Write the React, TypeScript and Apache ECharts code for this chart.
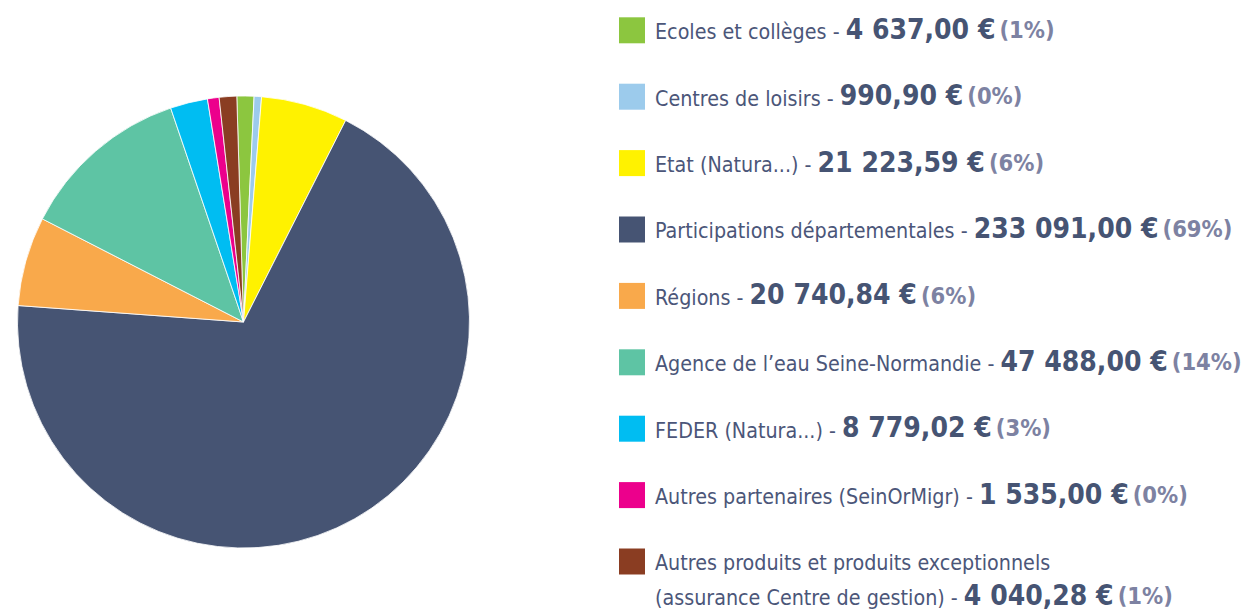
import React, { useEffect, useRef } from "react";
import * as echarts from "echarts";

// Legend names, amounts (EUR) and percentage labels, as printed
const names = [
  "Ecoles et collèges",
  "Centres de loisirs",
  "Etat (Natura...)",
  "Participations départementales",
  "Régions",
  "Agence de l’eau Seine-Normandie",
  "FEDER (Natura...)",
  "Autres partenaires (SeinOrMigr)",
  "Autres produits et produits exceptionnels\n(assurance Centre de gestion)",
];
const amounts = [4637.0, 990.9, 21223.59, 233091.0, 20740.84, 47488.0, 8779.02, 1535.0, 4040.28];
const percents = ["1%", "0%", "6%", "69%", "6%", "14%", "3%", "0%", "1%"];
// Slice shares (% of the circle)
const sliceShares = [1.22, 0.53, 6.19, 68.7, 6.38, 12.24, 2.67, 0.83, 1.25];
const colors = ["#8cc63f", "#9ccbec", "#fff200", "#465473", "#f9a94b", "#5ec4a4", "#00bdf2", "#ec008c", "#8a3d22"];

function fmt(v: number): string {
  const [i, d] = v.toFixed(2).split(".");
  const g = i.replace(/\B(?=(\d{3})+(?!\d))/g, " ");
  return g + "," + d + " €";
}

const FONT = "'DejaVu Sans Condensed', sans-serif";

export default function App() {
  const ref = useRef<HTMLDivElement>(null);
  useEffect(() => {
    document.body.style.margin = "0";
    const chart = echarts.init(ref.current!, null, { renderer: "svg" });
    const rowGap = 66.4;
    const firstCenter = 30.3;
    const LH = 34.7;
    const graphics: any[] = [];
    names.forEach((n, i) => {
      const cy = firstCenter + rowGap * i;
      const lines = n.split("\n");
      const head = lines.slice(0, -1).map((t) => `{l|${t}}\n`).join("");
      const last = lines[lines.length - 1];
      graphics.push({
        type: "rect",
        x: 619,
        y: cy - 13,
        shape: { x: 0, y: 0, width: 26, height: 26 },
        style: { fill: colors[i] },
      });
      graphics.push({
        type: "text",
        x: 655,
        y: cy - 18.3,
        style: {
          text: `${head}{l|${last} - }{v|${fmt(amounts[i])}}{p|(${percents[i]})}`,
          verticalAlign: "top",
          align: "left",
          rich: {
            l: { fontFamily: FONT, fontSize: 21.3, fill: "#4b5679", lineHeight: LH, padding: [4.6, 0, 0, 0] },
            v: { fontFamily: FONT, fontSize: 28, fontWeight: "bold", fill: "#465473", lineHeight: LH },
            p: { fontFamily: FONT, fontSize: 23.5, fontWeight: "bold", fill: "#7d82a2", lineHeight: LH, padding: [1.2, 0, 0, 4] },
          },
        },
      });
    });
    chart.setOption({
      animation: false,
      graphic: graphics,
      series: [
        {
          type: "pie",
          center: [243.5, 322],
          radius: 226,
          startAngle: 91.7,
          clockwise: true,
          label: { show: false },
          labelLine: { show: false },
          emphasis: { disabled: true },
          itemStyle: { borderColor: "rgba(255,255,255,0.8)", borderWidth: 1 },
          data: names.map((n, i) => ({ name: n, value: sliceShares[i], itemStyle: { color: colors[i] } })),
        },
      ],
    });
    return () => chart.dispose();
  }, []);
  return <div ref={ref} style={{ width: 1242, height: 612 }} />;
}
